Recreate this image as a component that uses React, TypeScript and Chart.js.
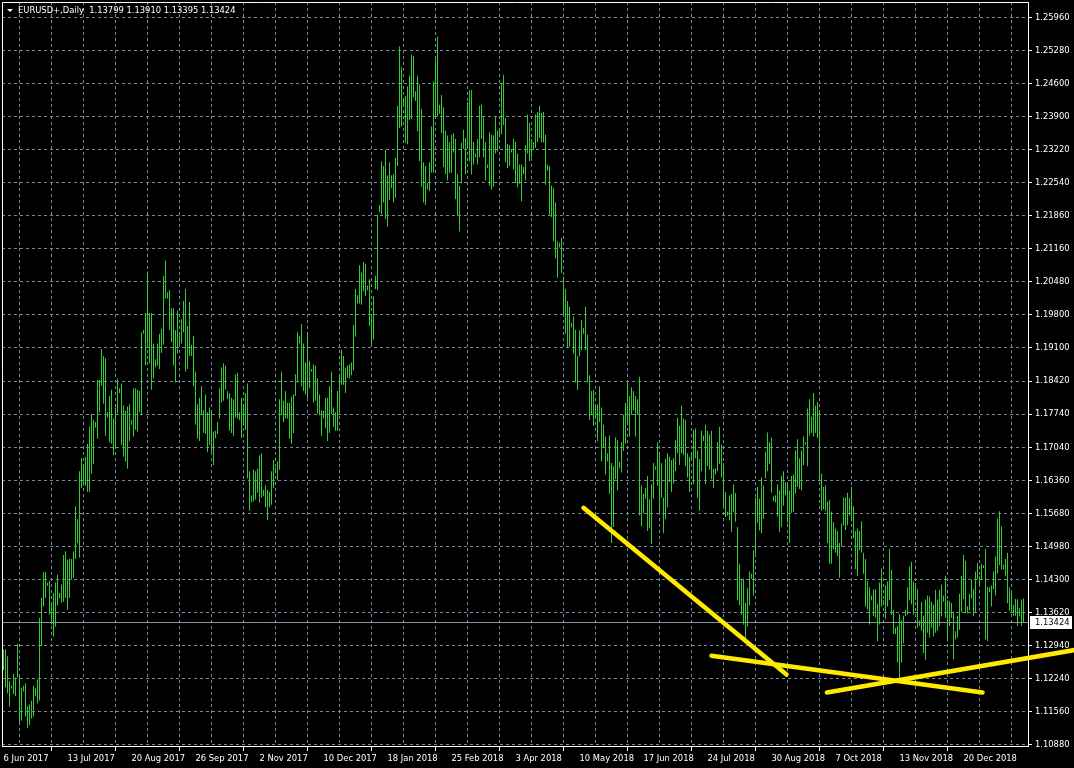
import React, { useEffect, useRef } from 'react';
import { Chart, registerables } from 'chart.js';

Chart.register(...registerables);

const symbolTitle = 'EURUSD+,Daily';
const lastQuote = ['1.13799', '1.13910', '1.13395', '1.13424'];
const bidPrice = 1.13424;

const dateLabels = [
  '6 Jun 2017', '13 Jul 2017', '20 Aug 2017', '26 Sep 2017', '2 Nov 2017', '10 Dec 2017',
  '18 Jan 2018', '25 Feb 2018', '3 Apr 2018', '10 May 2018', '17 Jun 2018', '24 Jul 2018',
  '30 Aug 2018', '7 Oct 2018', '13 Nov 2018', '20 Dec 2018',
];
const barsPerLabel = 32;
const barsPerGrid = 16;

const priceLabels = [
  '1.25960', '1.25280', '1.24600', '1.23900', '1.23220', '1.22540', '1.21860', '1.21160',
  '1.20480', '1.19800', '1.19100', '1.18420', '1.17740', '1.17040', '1.16360', '1.15680',
  '1.14980', '1.14300', '1.13620', '1.12940', '1.12240', '1.11560', '1.10880',
];

const highs = [
  1.1285, 1.1285, 1.1271, 1.1219, 1.1210, 1.1235, 1.1227, 1.1297, 1.1231, 1.1206,
  1.1210, 1.1215, 1.1167, 1.1171, 1.1179, 1.1210, 1.1204, 1.1223, 1.1351, 1.1392,
  1.1446, 1.1446, 1.1424, 1.1427, 1.1377, 1.1402, 1.1424, 1.1440, 1.1402, 1.1420,
  1.1481, 1.1489, 1.1471, 1.1473, 1.1473, 1.1489, 1.1582, 1.1555, 1.1655, 1.1682,
  1.1668, 1.1685, 1.1712, 1.1747, 1.1774, 1.1761, 1.1757, 1.1844, 1.1844, 1.1909,
  1.1894, 1.1889, 1.1777, 1.1811, 1.1824, 1.1764, 1.1787, 1.1847, 1.1827, 1.1837,
  1.1791, 1.1781, 1.1789, 1.1794, 1.1761, 1.1827, 1.1827, 1.1824, 1.1821, 1.1943,
  1.1948, 1.1983, 1.2069, 1.1983, 1.1983, 1.1920, 1.1887, 1.1920, 1.1940, 1.1950,
  1.2060, 1.2092, 1.2026, 1.2030, 1.1993, 1.1993, 1.1948, 1.1988, 1.1938, 1.1970,
  1.2008, 1.2033, 1.1956, 1.2006, 1.1917, 1.1936, 1.1861, 1.1794, 1.1807, 1.1831,
  1.1781, 1.1814, 1.1777, 1.1787, 1.1781, 1.1737, 1.1739, 1.1757, 1.1827, 1.1870,
  1.1879, 1.1874, 1.1821, 1.1817, 1.1807, 1.1804, 1.1856, 1.1859, 1.1777, 1.1807,
  1.1791, 1.1817, 1.1837, 1.1655, 1.1605, 1.1658, 1.1655, 1.1660, 1.1688, 1.1692,
  1.1616, 1.1625, 1.1616, 1.1612, 1.1655, 1.1678, 1.1662, 1.1675, 1.1804, 1.1861,
  1.1801, 1.1821, 1.1797, 1.1797, 1.1810, 1.1814, 1.1856, 1.1943, 1.1936, 1.1960,
  1.1920, 1.1881, 1.1940, 1.1884, 1.1867, 1.1877, 1.1874, 1.1847, 1.1814, 1.1781,
  1.1781, 1.1807, 1.1807, 1.1831, 1.1861, 1.1787, 1.1777, 1.1821, 1.1851, 1.1907,
  1.1894, 1.1870, 1.1874, 1.1877, 1.1881, 1.1958, 1.2033, 1.2020, 1.2082, 1.2067,
  1.2089, 1.2085, 1.2040, 1.2053, 1.1978, 1.2018, 1.2060, 1.2187, 1.2207, 1.2298,
  1.2288, 1.2321, 1.2269, 1.2296, 1.2269, 1.2271, 1.2305, 1.2413, 1.2536, 1.2493,
  1.2427, 1.2433, 1.2453, 1.2475, 1.2519, 1.2516, 1.2443, 1.2475, 1.2457, 1.2406,
  1.2296, 1.2288, 1.2252, 1.2296, 1.2370, 1.2463, 1.2509, 1.2556, 1.2415, 1.2435,
  1.2410, 1.2361, 1.2351, 1.2338, 1.2353, 1.2356, 1.2344, 1.2271, 1.2247, 1.2336,
  1.2363, 1.2346, 1.2420, 1.2445, 1.2445, 1.2338, 1.2314, 1.2344, 1.2413, 1.2415,
  1.2389, 1.2338, 1.2291, 1.2358, 1.2353, 1.2351, 1.2390, 1.2361, 1.2364, 1.2460,
  1.2477, 1.2387, 1.2334, 1.2331, 1.2324, 1.2344, 1.2338, 1.2314, 1.2291, 1.2291,
  1.2286, 1.2331, 1.2395, 1.2377, 1.2344, 1.2338, 1.2395, 1.2400, 1.2413, 1.2398,
  1.2400, 1.2353, 1.2291, 1.2288, 1.2247, 1.2242, 1.2212, 1.2132, 1.2129, 1.2139,
  1.2058, 1.2033, 1.2008, 1.1996, 1.1963, 1.1976, 1.1948, 1.1894, 1.1948, 1.1968,
  1.1952, 1.1996, 1.1938, 1.1854, 1.1821, 1.1824, 1.1791, 1.1794, 1.1831, 1.1787,
  1.1751, 1.1727, 1.1692, 1.1729, 1.1672, 1.1665, 1.1725, 1.1720, 1.1675, 1.1715,
  1.1772, 1.1797, 1.1839, 1.1811, 1.1829, 1.1821, 1.1811, 1.1804, 1.1851, 1.1625,
  1.1608, 1.1620, 1.1645, 1.1596, 1.1628, 1.1672, 1.1665, 1.1715, 1.1695, 1.1672,
  1.1600, 1.1680, 1.1692, 1.1685, 1.1678, 1.1682, 1.1719, 1.1766, 1.1749, 1.1791,
  1.1764, 1.1761, 1.1692, 1.1685, 1.1692, 1.1741, 1.1744, 1.1698, 1.1680, 1.1739,
  1.1729, 1.1751, 1.1739, 1.1731, 1.1739, 1.1660, 1.1660, 1.1715, 1.1747, 1.1710,
  1.1672, 1.1612, 1.1571, 1.1605, 1.1608, 1.1628, 1.1610, 1.1539, 1.1462, 1.1432,
  1.1432, 1.1382, 1.1412, 1.1447, 1.1442, 1.1491, 1.1600, 1.1622, 1.1598, 1.1642,
  1.1625, 1.1695, 1.1735, 1.1715, 1.1725, 1.1603, 1.1605, 1.1628, 1.1615, 1.1645,
  1.1655, 1.1632, 1.1628, 1.1615, 1.1645, 1.1648, 1.1698, 1.1721, 1.1682, 1.1698,
  1.1727, 1.1715, 1.1785, 1.1804, 1.1768, 1.1817, 1.1791, 1.1799, 1.1781, 1.1650,
  1.1622, 1.1625, 1.1592, 1.1595, 1.1571, 1.1549, 1.1536, 1.1531, 1.1506, 1.1546,
  1.1600, 1.1600, 1.1610, 1.1600, 1.1622, 1.1582, 1.1531, 1.1536, 1.1531, 1.1551,
  1.1486, 1.1473, 1.1427, 1.1414, 1.1397, 1.1410, 1.1410, 1.1380, 1.1424, 1.1453,
  1.1387, 1.1419, 1.1426, 1.1494, 1.1450, 1.1367, 1.1330, 1.1334, 1.1358, 1.1345,
  1.1355, 1.1367, 1.1414, 1.1457, 1.1467, 1.1426, 1.1423, 1.1410, 1.1345, 1.1384,
  1.1355, 1.1389, 1.1397, 1.1395, 1.1384, 1.1378, 1.1409, 1.1389, 1.1409, 1.1420,
  1.1397, 1.1438, 1.1387, 1.1386, 1.1382, 1.1364, 1.1323, 1.1355, 1.1400, 1.1438,
  1.1481, 1.1469, 1.1375, 1.1400, 1.1430, 1.1410, 1.1447, 1.1465, 1.1437, 1.1463,
  1.1460, 1.1494, 1.1414, 1.1414, 1.1418, 1.1447, 1.1478, 1.1557, 1.1572, 1.1540,
  1.1461, 1.1473, 1.1486, 1.1414, 1.1402, 1.1378, 1.1390, 1.1389, 1.1371, 1.1389,
  1.1391,
];

const lows = [
  1.1242, 1.1207, 1.1194, 1.1167, 1.1204, 1.1192, 1.1188, 1.1227, 1.1134, 1.1138,
  1.1198, 1.1146, 1.1122, 1.1128, 1.1142, 1.1146, 1.1188, 1.1173, 1.1179, 1.1292,
  1.1374, 1.1392, 1.1417, 1.1357, 1.1337, 1.1312, 1.1332, 1.1377, 1.1392, 1.1382,
  1.1384, 1.1392, 1.1367, 1.1392, 1.1430, 1.1434, 1.1473, 1.1506, 1.1476, 1.1620,
  1.1625, 1.1625, 1.1612, 1.1612, 1.1650, 1.1670, 1.1745, 1.1722, 1.1777, 1.1832,
  1.1795, 1.1728, 1.1767, 1.1715, 1.1712, 1.1688, 1.1702, 1.1775, 1.1817, 1.1710,
  1.1685, 1.1675, 1.1660, 1.1717, 1.1751, 1.1727, 1.1741, 1.1737, 1.1777, 1.1771,
  1.1940, 1.1874, 1.1920, 1.1879, 1.1824, 1.1847, 1.1871, 1.1874, 1.1867, 1.1900,
  1.1917, 1.2013, 1.2013, 1.1948, 1.1923, 1.1874, 1.1839, 1.1899, 1.1917, 1.1920,
  1.1943, 1.1861, 1.1867, 1.1894, 1.1894, 1.1831, 1.1751, 1.1722, 1.1717, 1.1771,
  1.1734, 1.1732, 1.1694, 1.1710, 1.1694, 1.1668, 1.1724, 1.1732, 1.1764, 1.1797,
  1.1801, 1.1824, 1.1804, 1.1739, 1.1734, 1.1728, 1.1767, 1.1764, 1.1761, 1.1724,
  1.1749, 1.1741, 1.1640, 1.1573, 1.1590, 1.1592, 1.1596, 1.1610, 1.1590, 1.1600,
  1.1603, 1.1580, 1.1553, 1.1580, 1.1586, 1.1620, 1.1652, 1.1636, 1.1658, 1.1771,
  1.1757, 1.1764, 1.1764, 1.1722, 1.1712, 1.1734, 1.1811, 1.1839, 1.1920, 1.1831,
  1.1821, 1.1814, 1.1807, 1.1827, 1.1861, 1.1797, 1.1801, 1.1774, 1.1771, 1.1728,
  1.1764, 1.1744, 1.1717, 1.1734, 1.1774, 1.1747, 1.1739, 1.1739, 1.1774, 1.1834,
  1.1834, 1.1817, 1.1849, 1.1847, 1.1854, 1.1864, 1.1934, 1.2003, 1.2003, 1.2000,
  1.2028, 1.2018, 1.2030, 1.1956, 1.1917, 1.1928, 1.2033, 1.2030, 1.2192, 1.2187,
  1.2212, 1.2178, 1.2162, 1.2217, 1.2242, 1.2212, 1.2222, 1.2288, 1.2367, 1.2370,
  1.2410, 1.2336, 1.2333, 1.2383, 1.2385, 1.2430, 1.2423, 1.2360, 1.2298, 1.2245,
  1.2212, 1.2207, 1.2239, 1.2236, 1.2274, 1.2274, 1.2390, 1.2390, 1.2396, 1.2356,
  1.2286, 1.2271, 1.2258, 1.2274, 1.2274, 1.2316, 1.2219, 1.2185, 1.2152, 1.2252,
  1.2324, 1.2271, 1.2326, 1.2298, 1.2271, 1.2291, 1.2306, 1.2291, 1.2306, 1.2344,
  1.2306, 1.2258, 1.2284, 1.2247, 1.2239, 1.2245, 1.2314, 1.2318, 1.2348, 1.2354,
  1.2373, 1.2296, 1.2284, 1.2288, 1.2316, 1.2281, 1.2252, 1.2244, 1.2251, 1.2215,
  1.2271, 1.2258, 1.2314, 1.2298, 1.2306, 1.2321, 1.2326, 1.2338, 1.2346, 1.2338,
  1.2336, 1.2249, 1.2278, 1.2187, 1.2182, 1.2132, 1.2096, 1.2056, 1.2119, 1.2066,
  1.1981, 1.1940, 1.1910, 1.1913, 1.1953, 1.1899, 1.1839, 1.1824, 1.1893, 1.1906,
  1.1940, 1.1906, 1.1839, 1.1761, 1.1771, 1.1749, 1.1767, 1.1717, 1.1757, 1.1675,
  1.1704, 1.1648, 1.1675, 1.1608, 1.1506, 1.1539, 1.1638, 1.1615, 1.1662, 1.1652,
  1.1697, 1.1712, 1.1754, 1.1727, 1.1772, 1.1781, 1.1727, 1.1772, 1.1563, 1.1540,
  1.1568, 1.1598, 1.1531, 1.1536, 1.1504, 1.1598, 1.1658, 1.1625, 1.1571, 1.1600,
  1.1526, 1.1556, 1.1580, 1.1632, 1.1612, 1.1629, 1.1655, 1.1692, 1.1668, 1.1692,
  1.1688, 1.1665, 1.1642, 1.1612, 1.1678, 1.1628, 1.1682, 1.1600, 1.1573, 1.1655,
  1.1717, 1.1628, 1.1665, 1.1658, 1.1638, 1.1620, 1.1648, 1.1655, 1.1670, 1.1642,
  1.1580, 1.1560, 1.1563, 1.1553, 1.1529, 1.1571, 1.1550, 1.1387, 1.1377, 1.1357,
  1.1337, 1.1307, 1.1332, 1.1377, 1.1432, 1.1397, 1.1484, 1.1548, 1.1532, 1.1526,
  1.1556, 1.1640, 1.1655, 1.1670, 1.1610, 1.1593, 1.1590, 1.1561, 1.1529, 1.1539,
  1.1583, 1.1605, 1.1548, 1.1506, 1.1568, 1.1571, 1.1608, 1.1622, 1.1618, 1.1615,
  1.1668, 1.1710, 1.1665, 1.1729, 1.1734, 1.1727, 1.1734, 1.1724, 1.1636, 1.1573,
  1.1576, 1.1573, 1.1506, 1.1463, 1.1463, 1.1493, 1.1486, 1.1479, 1.1434, 1.1498,
  1.1543, 1.1533, 1.1543, 1.1563, 1.1551, 1.1516, 1.1452, 1.1437, 1.1491, 1.1486,
  1.1442, 1.1374, 1.1368, 1.1337, 1.1387, 1.1354, 1.1351, 1.1302, 1.1337, 1.1374,
  1.1377, 1.1349, 1.1374, 1.1387, 1.1357, 1.1317, 1.1317, 1.1258, 1.1224, 1.1258,
  1.1298, 1.1354, 1.1357, 1.1387, 1.1379, 1.1357, 1.1387, 1.1330, 1.1334, 1.1324,
  1.1278, 1.1264, 1.1320, 1.1310, 1.1330, 1.1312, 1.1320, 1.1324, 1.1334, 1.1354,
  1.1384, 1.1351, 1.1302, 1.1334, 1.1351, 1.1265, 1.1306, 1.1310, 1.1326, 1.1363,
  1.1390, 1.1360, 1.1360, 1.1366, 1.1391, 1.1354, 1.1362, 1.1430, 1.1417, 1.1429,
  1.1454, 1.1306, 1.1302, 1.1404, 1.1374, 1.1410, 1.1397, 1.1442, 1.1460, 1.1451,
  1.1451, 1.1437, 1.1381, 1.1366, 1.1363, 1.1355, 1.1355, 1.1334, 1.1354, 1.1334,
  1.1340,
];

// trend lines: [start bar, end bar] and [start price, end price]
const trendLineBars = [[290, 391.5], [354, 489.5], [411.7, 535.5]];
const trendLinePrices = [[1.1579, 1.1233], [1.1272, 1.1196], [1.1196, 1.1284]];

// visible window of the axes
const xAxisMin = -0.75;
const xAxisMax = 512.25;
const yAxisMin = 1.108489;
const yAxisMax = 1.262815;

const FONT_FAMILY = '"DejaVu Sans Condensed", "DejaVu Sans", sans-serif';
const FONT_SIZE = 9.3;
const GRID_COLOR = '#778899';
const BAR_COLOR = '#32cd32';
const TREND_COLOR = '#ffea00';
const BID_COLOR = '#8a96a4';

const priceTop = parseFloat(priceLabels[0]);
const priceBottom = parseFloat(priceLabels[priceLabels.length - 1]);
const priceStep = (priceTop - priceBottom) / (priceLabels.length - 1);

const mtPlugin = {
  id: 'mtDecor',
  beforeDraw(chart: any) {
    const { ctx, width, height } = chart;
    ctx.save();
    ctx.fillStyle = '#000';
    ctx.fillRect(0, 0, width, height);
    ctx.restore();
  },
  beforeDatasetsDraw(chart: any) {
    const { ctx, chartArea } = chart;
    const { left, top, right, bottom } = chartArea;
    const y = chart.scales.y;
    ctx.save();
    const by = Math.round(y.getPixelForValue(bidPrice)) + 0.5;
    ctx.strokeStyle = BID_COLOR;
    ctx.lineWidth = 1;
    ctx.beginPath();
    ctx.moveTo(left, by);
    ctx.lineTo(right, by);
    ctx.stroke();
    ctx.strokeStyle = '#ffffff';
    ctx.beginPath();
    ctx.moveTo(left + 0.5, bottom);
    ctx.lineTo(left + 0.5, top + 0.5);
    ctx.lineTo(right + 1, top + 0.5);
    ctx.stroke();
    ctx.restore();
  },
  afterDraw(chart: any) {
    const { ctx, chartArea } = chart;
    const { left, top, right } = chartArea;
    const y = chart.scales.y;
    ctx.save();
    const by = Math.round(y.getPixelForValue(bidPrice));
    ctx.fillStyle = '#ffffff';
    ctx.fillRect(right + 2, by - 6, 42, 13);
    ctx.fillStyle = '#000000';
    ctx.font = `${FONT_SIZE}px ${FONT_FAMILY}`;
    ctx.textBaseline = 'middle';
    ctx.textAlign = 'left';
    ctx.fillText(bidPrice.toFixed(5), right + 7, by + 0.5);
    ctx.fillStyle = '#ffffff';
    ctx.beginPath();
    ctx.moveTo(left + 5, top + 7);
    ctx.lineTo(left + 11, top + 7);
    ctx.lineTo(left + 8, top + 10);
    ctx.closePath();
    ctx.fill();
    ctx.fillText(`${symbolTitle}  ${lastQuote.join(' ')}`, left + 16, top + 8.5);
    ctx.restore();
  },
};

export default function App() {
  const ref = useRef<HTMLCanvasElement>(null);
  useEffect(() => {
    const gridTicks = Array.from({ length: dateLabels.length * (barsPerLabel / barsPerGrid) }, (_, k) => k * barsPerGrid);
    const yTickValues = priceLabels.map((_, k) => priceBottom + k * priceStep);

    const barData = highs.map((h, i) => ({ x: i, y: [lows[i], h] }));
    const trendSets = trendLineBars.map((bars, k) => ({
      type: 'line' as const,
      data: [
        { x: bars[0], y: trendLinePrices[k][0] },
        { x: bars[1], y: trendLinePrices[k][1] },
      ],
      borderColor: TREND_COLOR,
      borderWidth: 4.5,
      borderCapStyle: 'round' as const,
      pointRadius: 0,
      tension: 0,
      clip: false as any,
      order: 0,
    }));

    const zeroPadding = (s: any) => {
      s.paddingTop = 0;
      s.paddingBottom = 0;
      s.paddingLeft = 0;
      s.paddingRight = 0;
    };

    const chart = new Chart(ref.current as HTMLCanvasElement, {
      type: 'bar',
      data: {
        datasets: [
          {
            type: 'bar',
            data: barData as any,
            backgroundColor: BAR_COLOR,
            borderWidth: 0,
            barThickness: 1,
            minBarLength: 1,
            inflateAmount: 0,
            grouped: false,
            order: 1,
          } as any,
          ...(trendSets as any[]),
        ],
      },
      options: {
        animation: false,
        responsive: false,
        devicePixelRatio: 1,
        events: [],
        layout: { padding: { left: 2, top: 2, right: 0, bottom: 0 } },
        plugins: { legend: { display: false }, tooltip: { enabled: false }, title: { display: false } },
        scales: {
          x: {
            type: 'linear',
            position: 'bottom',
            min: xAxisMin,
            max: xAxisMax,
            bounds: 'data',
            offset: false,
            afterBuildTicks: (s: any) => {
              s.ticks = gridTicks.map((v) => ({ value: v }));
            },
            afterFit: (s: any) => {
              s.height = 22;
              zeroPadding(s);
            },
            ticks: {
              autoSkip: false,
              maxRotation: 0,
              minRotation: 0,
              align: 'start',
              padding: 2,
              color: '#ffffff',
              font: { family: FONT_FAMILY, size: FONT_SIZE },
              callback: (v: any) => (v % barsPerLabel === 0 ? dateLabels[v / barsPerLabel] : ''),
            },
            grid: {
              color: (c: any) => (c.tick && c.tick.value === 0 ? 'rgba(0,0,0,0)' : GRID_COLOR),
              lineWidth: 1,
              drawTicks: true,
              tickLength: 5,
              tickColor: (c: any) => (c.tick && c.tick.value % barsPerLabel === 0 ? '#ffffff' : 'rgba(0,0,0,0)'),
              tickBorderDash: [],
            },
            border: { display: true, color: '#ffffff', width: 1, dash: [3, 3] },
          } as any,
          y: {
            type: 'linear',
            position: 'right',
            min: yAxisMin,
            max: yAxisMax,
            bounds: 'data',
            afterBuildTicks: (s: any) => {
              s.ticks = yTickValues.map((v) => ({ value: v }));
            },
            afterFit: (s: any) => {
              s.width = 46;
              zeroPadding(s);
            },
            ticks: {
              autoSkip: false,
              padding: 3,
              color: '#ffffff',
              font: { family: FONT_FAMILY, size: FONT_SIZE },
              callback: (_v: any, i: number) => priceLabels[priceLabels.length - 1 - i],
            },
            grid: {
              color: GRID_COLOR,
              lineWidth: 1,
              drawTicks: true,
              tickLength: 4,
              tickColor: '#ffffff',
              tickBorderDash: [],
            },
            border: { display: true, color: '#ffffff', width: 1, dash: [3, 3] },
          } as any,
        },
      },
      plugins: [mtPlugin],
    });
    return () => chart.destroy();
  }, []);

  return (
    <div style={{ position: 'fixed', left: 0, top: 0, width: 1074, height: 768, background: '#000' }}>
      <canvas ref={ref} width={1074} height={768} style={{ display: 'block', width: 1074, height: 768 }} />
    </div>
  );
}
